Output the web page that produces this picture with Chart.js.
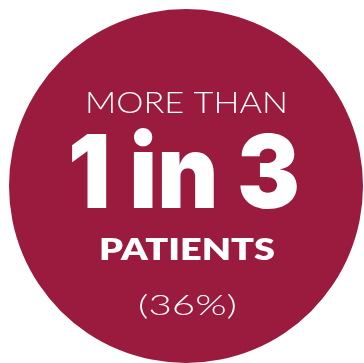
<!DOCTYPE html>
<html><head><meta charset="utf-8">
<script src="https://cdn.jsdelivr.net/npm/chart.js@4/dist/chart.umd.min.js"></script>
<style>
html,body{margin:0;padding:0;background:#fff;overflow:hidden;width:364px;height:363px}
#wrap{position:absolute;left:0;top:0;width:372px;height:372px}
</style></head><body>
<div id="wrap"><canvas id="c"></canvas></div>
<script>
// Data
const categories = ['Patients'];
const shareValues = [100];
const sliceColors = ['#9b1b3e'];
const textLines = ['MORE THAN', '1 in 3', 'PATIENTS', '(36%)'];
// line styles: [weight, font size, baseline y, target width, centre x, family]
const lineStyles = [
  ['300', 29, 113, 203, 186.5, 'Lato'],
  ['900', 102, 208, 232, 184, 'Inter'],
  ['800', 30, 260, 176, 187, 'Lato'],
  ['300', 27, 315, 99, 187.5, 'Lato']
];

const textPlugin = {
  id: 'centerText',
  afterDraw(chart) {
    const ctx = chart.ctx;
    ctx.save();
    ctx.fillStyle = '#ffffff';
    ctx.textBaseline = 'alphabetic';
    ctx.textAlign = 'left';
    textLines.forEach((t, i) => {
      const [w, size, y, targetW, cx, fam] = lineStyles[i];
      ctx.font = w + ' ' + size + 'px ' + fam + ', "Open Sans", sans-serif';
      const mw = ctx.measureText(t).width;
      const sx = targetW / mw;
      ctx.save();
      ctx.translate(cx - targetW / 2, y);
      ctx.scale(sx, 1);
      ctx.fillText(t, 0, 0);
      ctx.restore();
    });
    ctx.restore();
  }
};

new Chart(document.getElementById('c'), {
  type: 'pie',
  data: {
    labels: categories,
    datasets: [{ data: shareValues, backgroundColor: sliceColors, borderWidth: 0, hoverOffset: 0 }]
  },
  options: {
    responsive: true,
    maintainAspectRatio: false,
    animation: false,
    events: [],
    layout: { padding: 9 },
    plugins: { legend: { display: false }, tooltip: { enabled: false } }
  },
  plugins: [textPlugin]
});
</script>
</body></html>
